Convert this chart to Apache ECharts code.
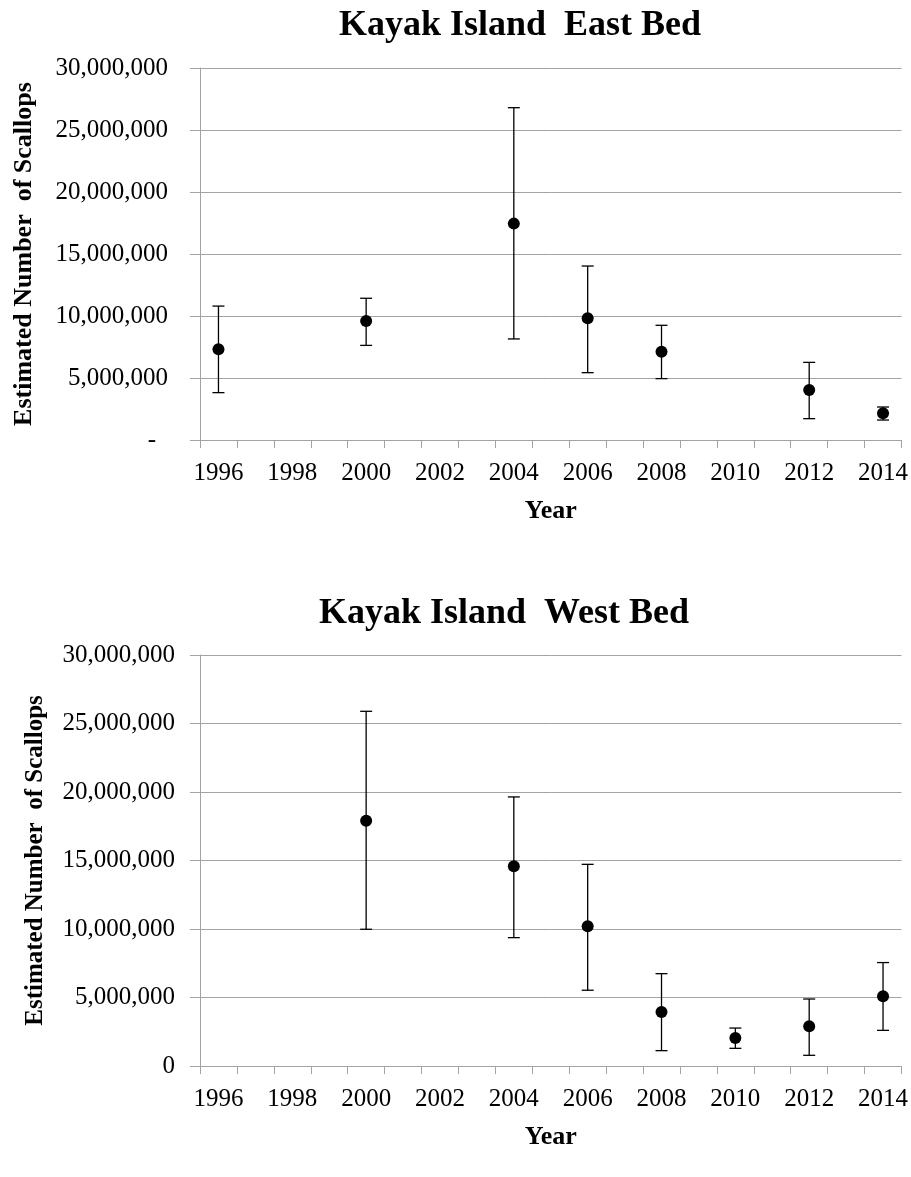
<!DOCTYPE html>
<html>
<head>
<meta charset="utf-8">
<script src="https://cdn.jsdelivr.net/npm/echarts@6/dist/echarts.min.js"></script>
<style>
  html, body { margin: 0; padding: 0; background: #fff; }
  #chart { width: 911px; height: 1177px; }
</style>
</head>
<body>
<div id="chart"></div>
<script>
// Survey years shown on the category axis
const yearLabels = ['1996', '1997', '1998', '1999', '2000', '2001', '2002', '2003', '2004', '2005',
                    '2006', '2007', '2008', '2009', '2010', '2011', '2012', '2013', '2014'];

// East bed: estimate with lower / upper confidence bounds
const eastYears    = ['1996', '2000', '2004', '2006', '2008', '2012', '2014'];
const eastEstimate = [7310000, 9600000, 17450000, 9810000, 7120000, 4030000, 2150000];
const eastLower    = [3820000, 7630000, 8150000, 5430000, 4950000, 1720000, 1610000];
const eastUpper    = [10800000, 11430000, 26800000, 14030000, 9250000, 6260000, 2660000];

// West bed: estimate with lower / upper confidence bounds
const westYears    = ['2000', '2004', '2006', '2008', '2010', '2012', '2014'];
const westEstimate = [17910000, 14580000, 10200000, 3940000, 2040000, 2900000, 5090000];
const westLower    = [9980000, 9370000, 5530000, 1120000, 1290000, 780000, 2600000];
const westUpper    = [25890000, 19640000, 14720000, 6740000, 2770000, 4890000, 7550000];

const SERIF = "'Liberation Serif', 'Times New Roman', serif";
const GRID_GRAY = '#a3a3a3';

function pointData(yrs, vals) {
  return yrs.map((y, i) => [y, vals[i]]);
}
function barData(yrs, lo, hi) {
  return yrs.map((y, i) => [y, lo[i], hi[i]]);
}

// Vertical whisker with short horizontal caps
function renderErrorBar(params, api) {
  const x = api.value(0);
  const lo = api.coord([x, api.value(1)]);
  const hi = api.coord([x, api.value(2)]);
  const half = 6;
  const style = { stroke: '#000', lineWidth: 1.3 };
  return {
    type: 'group',
    children: [
      { type: 'line', shape: { x1: lo[0], y1: lo[1], x2: hi[0], y2: hi[1] }, style },
      { type: 'line', shape: { x1: hi[0] - half, y1: hi[1], x2: hi[0] + half, y2: hi[1] }, style },
      { type: 'line', shape: { x1: lo[0] - half, y1: lo[1], x2: lo[0] + half, y2: lo[1] }, style }
    ]
  };
}

function xAxisFor(gridIndex) {
  return {
    type: 'category',
    gridIndex,
    data: yearLabels,
    boundaryGap: true,
    name: 'Year',
    nameLocation: 'middle',
    nameGap: 58,
    nameTextStyle: { fontFamily: SERIF, fontWeight: 'bold', fontSize: 26, color: '#000' },
    axisLine: { lineStyle: { color: GRID_GRAY, width: 1 } },
    axisTick: { show: true, interval: 0, length: 8, lineStyle: { color: GRID_GRAY } },
    axisLabel: { interval: 1, margin: 21, fontFamily: SERIF, fontSize: 25, color: '#000' },
    splitLine: { show: false }
  };
}

function yAxisFor(gridIndex, zeroAsDash, labelMargin, nameSize, nameGap) {
  return {
    type: 'value',
    gridIndex,
    min: 0,
    max: 30000000,
    interval: 5000000,
    name: 'Estimated Number  of Scallops',
    nameLocation: 'middle',
    nameRotate: 90,
    nameGap,
    nameTextStyle: { fontFamily: SERIF, fontWeight: 'bold', fontSize: nameSize, color: '#000' },
    axisLine: { show: true, lineStyle: { color: GRID_GRAY, width: 1 } },
    axisTick: { show: true, length: 10, lineStyle: { color: GRID_GRAY } },
    splitLine: { show: true, lineStyle: { color: GRID_GRAY, width: 1 } },
    axisLabel: {
      margin: labelMargin,
      fontFamily: SERIF,
      fontSize: 25,
      color: '#000',
      formatter: v => (v === 0 && zeroAsDash) ? '{d|-}' : v.toLocaleString('en-US'),
      rich: { d: { fontFamily: SERIF, fontSize: 25, color: '#000', padding: [0, 12, 0, 0] } }
    }
  };
}

const chart = echarts.init(document.getElementById('chart'), null, { renderer: 'canvas' });

chart.setOption({
  backgroundColor: '#fff',
  animation: false,
  graphic: [
    { type: 'text', x: 520, y: 8, style: { text: 'Kayak Island  East Bed', textAlign: 'center',
      fontFamily: SERIF, fontWeight: 'bold', fontSize: 36, fill: '#000' } },
    { type: 'text', x: 504, y: 596, style: { text: 'Kayak Island  West Bed', textAlign: 'center',
      fontFamily: SERIF, fontWeight: 'bold', fontSize: 36, fill: '#000' } }
  ],
  grid: [
    { left: 200, right: 8, top: 68, height: 372 },
    { left: 200, right: 8, top: 655, height: 411 }
  ],
  xAxis: [xAxisFor(0), xAxisFor(1)],
  yAxis: [yAxisFor(0, true, 32, 26, 163), yAxisFor(1, false, 25, 25, 152)],
  series: [
    { type: 'custom', xAxisIndex: 0, yAxisIndex: 0, renderItem: renderErrorBar,
      data: barData(eastYears, eastLower, eastUpper), z: 2 },
    { type: 'scatter', xAxisIndex: 0, yAxisIndex: 0, symbol: 'circle', symbolSize: 12,
      itemStyle: { color: '#000', opacity: 1 }, data: pointData(eastYears, eastEstimate), z: 3 },
    { type: 'custom', xAxisIndex: 1, yAxisIndex: 1, renderItem: renderErrorBar,
      data: barData(westYears, westLower, westUpper), z: 2 },
    { type: 'scatter', xAxisIndex: 1, yAxisIndex: 1, symbol: 'circle', symbolSize: 12,
      itemStyle: { color: '#000', opacity: 1 }, data: pointData(westYears, westEstimate), z: 3 }
  ]
});
</script>
</body>
</html>
